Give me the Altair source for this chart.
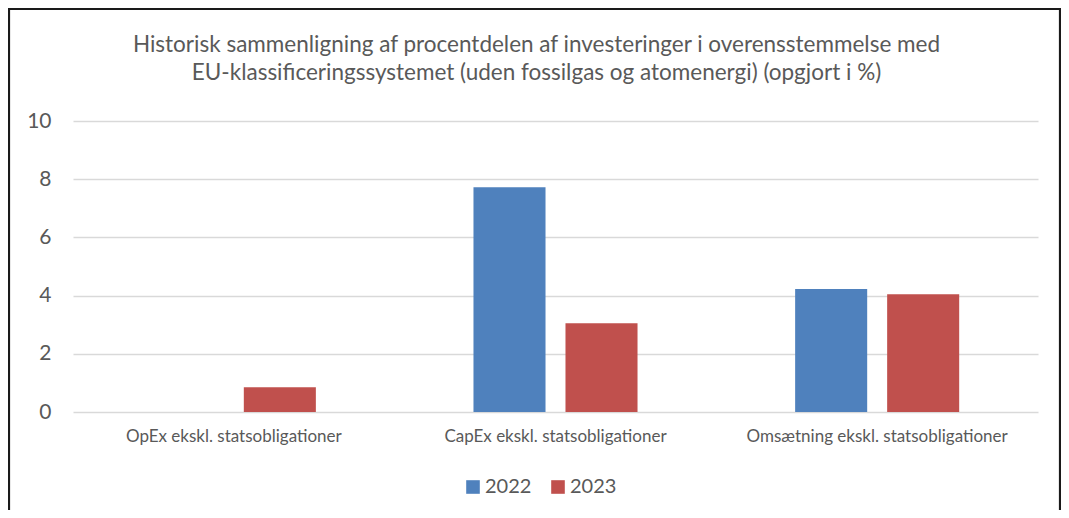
import altair as alt
import pandas as pd

categories = ["OpEx ekskl. statsobligationer", "CapEx ekskl. statsobligationer", "Omsætning ekskl. statsobligationer"]
years = ["2022", "2023"]
values_2022 = [0.0, 7.72, 4.23]
values_2023 = [0.85, 3.05, 4.05]
y_ticks = [0, 2, 4, 6, 8, 10]
title_lines = [
    "Historisk sammenligning af procentdelen af investeringer i overensstemmelse med",
    "EU-klassificeringssystemet (uden fossilgas og atomenergi) (opgjort i %)",
]
colors = ["#4F81BD", "#C0504D"]

rows = []
for c, v in zip(categories, values_2022):
    rows.append({"Kategori": c, "År": "2022", "Værdi": v})
for c, v in zip(categories, values_2023):
    rows.append({"Kategori": c, "År": "2023", "Værdi": v})
df = pd.DataFrame(rows)

W, H = 965, 291
FONT = "Lato"
GREY = "#595959"

bars = alt.Chart(df).mark_bar().encode(
    x=alt.X("Kategori:N", sort=categories, title=None,
            scale=alt.Scale(paddingInner=0.49, paddingOuter=0.245),
            axis=alt.Axis(labelAngle=0, labelFontSize=17, labelColor=GREY, labelFont=FONT,
                          labelLimit=0, ticks=False, domain=False, labelPadding=16, grid=False)),
    xOffset=alt.XOffset("År:N", sort=years, scale=alt.Scale(paddingInner=0.217, paddingOuter=0)),
    y=alt.Y("Værdi:Q", title=None,
            scale=alt.Scale(domain=[0, 10], nice=False),
            axis=alt.Axis(values=y_ticks, labelFontSize=21, labelColor=GREY, labelFont=FONT,
                          ticks=False, domain=False, labelPadding=22, grid=True,
                          gridColor="#D9D9D9", gridWidth=1.6)),
    color=alt.Color("År:N", sort=years, scale=alt.Scale(domain=years, range=colors),
                    legend=alt.Legend(title=None, orient="none", legendX=390, legendY=356,
                                      direction="horizontal", symbolType="square",
                                      symbolSize=185, symbolStrokeWidth=0, labelFontSize=20,
                                      labelColor=GREY, labelFont=FONT, labelOffset=2,
                                      columnPadding=16, padding=0)),
)

border = alt.Chart(pd.DataFrame({"b": [0]})).mark_rect(
    fill=None, stroke="#1a1a1a", strokeWidth=2.2, clip=False
).encode(
    x=alt.value(-64), x2=alt.value(987), y=alt.value(-112), y2=alt.value(420)
)

chart = alt.layer(border, bars).properties(
    width=W, height=H,
    title=alt.Title(title_lines, fontSize=22.5, font=FONT, fontWeight="normal", color=GREY,
                    anchor="middle", lineHeight=28, offset=32, dx=-19, dy=109),
    autosize=alt.AutoSizeParams(type="none"),
    padding={"left": 65, "top": 113, "right": 23, "bottom": 98},
).configure(background="white").configure_view(stroke=None)

chart.save("out.html", embed_options={"renderer": "svg", "actions": False})
